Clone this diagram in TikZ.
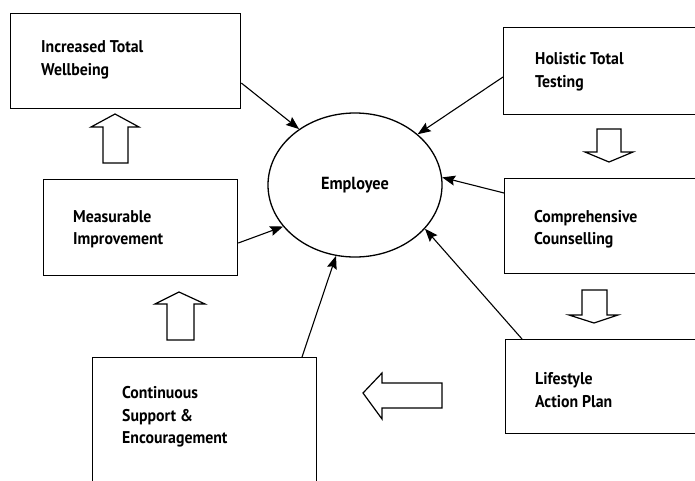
\documentclass[tikz,border=0pt]{standalone}
\usepackage{fontspec}
\setmainfont{PT Sans}
\newfontfamily\narrowsans[FakeStretch=0.93]{PT Sans}
\usetikzlibrary{calc,shapes.geometric,arrows.meta}

\tikzset{
  stagebox/.style={draw, line width=1.3pt, rectangle, anchor=north west, inner sep=0pt},
  stagetext/.style={anchor=west, align=left, inner sep=0pt,
    font=\narrowsans\fontsize{17}{22.5}\selectfont\bfseries},
  hub/.style={draw, line width=1.3pt, ellipse, inner sep=0pt,
    minimum width=174pt, minimum height=144pt,
    font=\narrowsans\fontsize{17.5}{20}\selectfont\bfseries},
  conn/.style={line width=1.1pt, -{Stealth[length=13pt,width=10pt,inset=2pt]}},
  flowarrow/.style={draw, line width=1.2pt, line join=miter, fill=white}
}

\begin{document}
\begin{tikzpicture}[x=1pt,y=-1pt]
\useasboundingbox (0,0) rectangle (695,480);

% stage boxes
\node[stagebox, minimum width=230pt, minimum height=95pt]  (well)  at (10,13)  {};
\node[stagebox, minimum width=210pt, minimum height=87pt]  (test)  at (503,27) {};
\node[stagebox, minimum width=194pt, minimum height=96pt]  (meas)  at (43,179) {};
\node[stagebox, minimum width=210pt, minimum height=95pt]  (couns) at (504,178) {};
\node[stagebox, minimum width=210pt, minimum height=94pt]  (plan)  at (505,339) {};
\node[stagebox, minimum width=224pt, minimum height=140pt] (supp)  at (92,357) {};

% labels inside the boxes
\node[stagetext] (well-t)  at (41,60)   {Increased Total\\Wellbeing};
\node[stagetext] (test-t)  at (535,72)  {Holistic Total\\Testing};
\node[stagetext] (meas-t)  at (73,229)  {Measurable\\Improvement};
\node[stagetext] (couns-t) at (534,229) {Comprehensive\\Counselling};
\node[stagetext] (plan-t)  at (535,390) {Lifestyle\\Action Plan};
\node[stagetext] (supp-t)  at (122,417) {Continuous\\Support \&\\Encouragement};

% central ellipse
\node[hub] (emp) at (355,185) {Employee};

% connectors into the ellipse
\coordinate (wellout)  at ($(well.north east)+(0,70)$);
\coordinate (testout)  at ($(test.north west)+(0,50)$);
\coordinate (counsout) at ($(couns.north west)+(0,15)$);
\coordinate (planout)  at ($(plan.north west)+(17,0)$);
\coordinate (measout)  at ($(meas.north east)+(0,64)$);
\coordinate (suppout)  at ($(supp.north west)+(210,0)$);

\draw[conn] (wellout)  -- (emp.135);
\draw[conn] (testout)  -- (emp.39);
\draw[conn] (counsout) -- (emp.5);
\draw[conn] (planout)  -- (emp.-32);
\draw[conn] (measout)  -- (emp.-150);
\draw[conn] (suppout)  -- (emp.-105);

% hollow block arrows between the stages
% up: Measurable -> Wellbeing
\draw[flowarrow] (103,163) -- (103,127) -- (91,127) -- (115,114) -- (139,127)
  -- (128,127) -- (128,163) -- cycle;
% up: Support -> Measurable
\draw[flowarrow] (167,340) -- (167,304) -- (155,304) -- (179,292) -- (205,304)
  -- (194,304) -- (194,340) -- cycle;
% down: Testing -> Counselling
\draw[flowarrow] (597,129) -- (621,129) -- (621,152) -- (633,152) -- (609,162)
  -- (585,152) -- (597,152) -- cycle;
% down: Counselling -> Action Plan
\draw[flowarrow] (582,290) -- (607,290) -- (607,315) -- (618,315) -- (594,323)
  -- (569,315) -- (582,315) -- cycle;
% left: Action Plan -> Support
\draw[flowarrow] (442,383) -- (382,383) -- (382,373) -- (363,393) -- (382,419)
  -- (382,408) -- (442,408) -- cycle;
\end{tikzpicture}
\end{document}
